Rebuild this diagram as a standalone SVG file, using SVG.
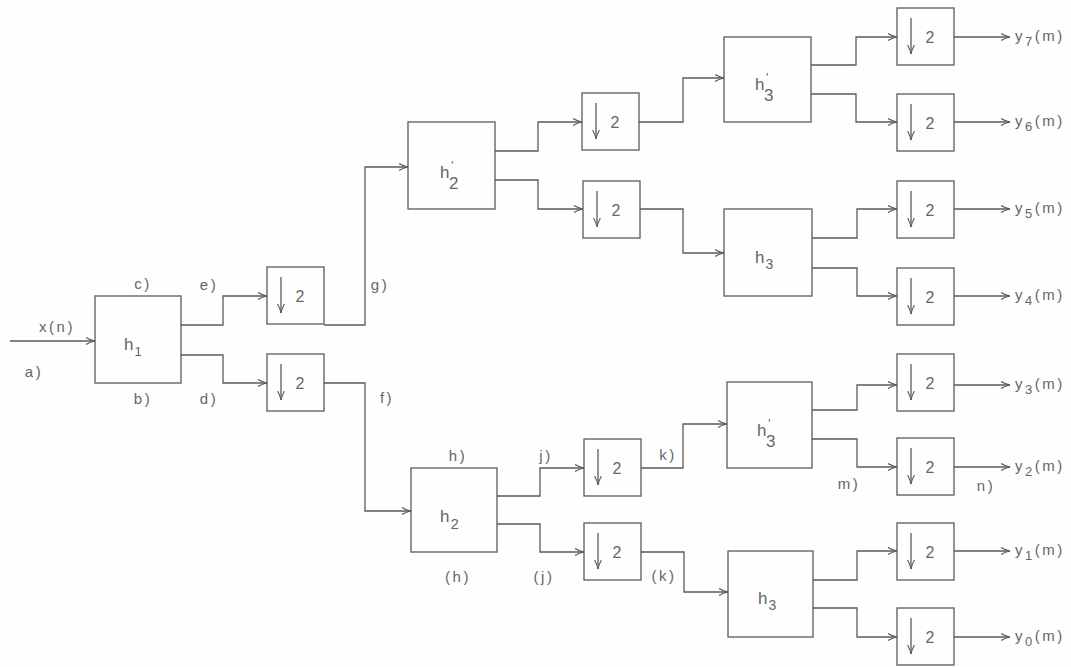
<svg xmlns="http://www.w3.org/2000/svg" width="1071" height="667" viewBox="0 0 1071 667">
<defs>
<style>
.bx{fill:none;stroke:#5a5a5a;stroke-width:1.3}
.ln{fill:none;stroke:#5a5a5a;stroke-width:1.3;marker-end:url(#ah)}
.t{font-family:"Liberation Sans",Arial,sans-serif;font-size:15px;fill:#666;text-anchor:middle;letter-spacing:2.5px}
.tl{font-family:"Liberation Sans",Arial,sans-serif;font-size:15px;fill:#666;letter-spacing:2.5px}
.h{font-family:"Liberation Sans",Arial,sans-serif;font-size:17px;fill:#666;letter-spacing:1px}
.pr{font-family:"Liberation Sans",Arial,sans-serif;font-size:13px;fill:#666}
.two{font-family:"Liberation Sans",Arial,sans-serif;font-size:16px;fill:#666;text-anchor:middle}
</style>
<marker id="ah" viewBox="0 0 10 10" refX="10" refY="5" markerWidth="9" markerHeight="9" markerUnits="userSpaceOnUse" orient="auto">
<path d="M0,1.2 Q5,4 10,5 Q5,6 0,8.8" fill="none" stroke="#5a5a5a" stroke-width="1.2"/>
</marker>
<g id="ds">
<rect class="bx" x="0" y="0" width="57" height="57"/>
<line class="ln" x1="14" y1="10" x2="14" y2="46"/>
<text class="two" x="33" y="35">2</text>
</g>
</defs>
<rect width="1071" height="667" fill="#fefefe"/>

<g id="connectors">
<path class="ln" d="M10,341 H95"/>
<path class="ln" d="M181,325 H223 V296 H267"/>
<path class="ln" d="M181,355 H223 V383 H267"/>
<path class="ln" d="M324,325 H365 V167 H408"/>
<path class="ln" d="M324,383 H365 V511 H411"/>
<path class="ln" d="M495,151 H538 V122 H582"/>
<path class="ln" d="M495,180 H538 V209 H583"/>
<path class="ln" d="M497,496 H540 V468 H584"/>
<path class="ln" d="M497,524 H540 V552 H584"/>
<path class="ln" d="M639,122 H683 V78 H724"/>
<path class="ln" d="M640,209 H683 V253 H724"/>
<path class="ln" d="M641,468 H683 V424 H727"/>
<path class="ln" d="M641,552 H684 V592 H728"/>
<path class="ln" d="M811,65 H856 V37 H897"/>
<path class="ln" d="M811,94 H856 V122 H897"/>
<path class="ln" d="M812,238 H857 V209 H897"/>
<path class="ln" d="M812,268 H857 V296 H897"/>
<path class="ln" d="M812,410 H857 V385 H897"/>
<path class="ln" d="M812,439 H857 V467 H897"/>
<path class="ln" d="M813,580 H857 V551 H897"/>
<path class="ln" d="M813,608 H857 V637 H897"/>
<path class="ln" d="M954,37 H1010"/>
<path class="ln" d="M954,122 H1010"/>
<path class="ln" d="M954,209 H1010"/>
<path class="ln" d="M954,296 H1010"/>
<path class="ln" d="M954,385 H1010"/>
<path class="ln" d="M954,467 H1010"/>
<path class="ln" d="M954,551 H1010"/>
<path class="ln" d="M954,637 H1010"/>
</g>

<g id="labels">
<text class="t" x="57" y="332">x(n)</text>
<text class="t" x="34" y="377">a)</text>
<text class="t" x="143" y="289">c)</text>
<text class="t" x="143" y="404">b)</text>
<text class="t" x="209" y="290">e)</text>
<text class="t" x="209" y="404">d)</text>
<text class="t" x="380" y="290">g)</text>
<text class="t" x="387" y="403">f)</text>
<text class="t" x="458" y="461">h)</text>
<text class="t" x="458" y="582">(h)</text>
<text class="t" x="546" y="461">j)</text>
<text class="t" x="544" y="582">(j)</text>
<text class="t" x="668" y="460">k)</text>
<text class="t" x="664" y="581">(k)</text>
<text class="t" x="849" y="489">m)</text>
<text class="t" x="986" y="491">n)</text>
</g>

<g id="h1"><rect class="bx" x="95" y="296" width="86" height="87"/><text class="h" x="124" y="350">h<tspan font-size="13" dy="6">1</tspan></text></g>
<g id="d1a"><use href="#ds" x="267" y="267"/></g>
<g id="d1b"><use href="#ds" x="267" y="354"/></g>
<g id="h2p"><rect class="bx" x="408" y="122" width="87" height="87"/><text class="h" x="440" y="178">h</text><text class="pr" x="451" y="170">'</text><text class="h" x="449" y="189" font-size="14">2</text></g>
<g id="h2"><rect class="bx" x="411" y="468" width="86" height="84"/><text class="h" x="440" y="522">h<tspan font-size="15" dy="7">2</tspan></text></g>
<g id="d2a"><use href="#ds" x="582" y="93"/></g>
<g id="d2b"><use href="#ds" x="583" y="181"/></g>
<g id="d2c"><use href="#ds" x="584" y="439"/></g>
<g id="d2d"><use href="#ds" x="584" y="523"/></g>
<g id="h3pa"><rect class="bx" x="724" y="37" width="87" height="85"/><text class="h" x="755" y="90">h</text><text class="pr" x="766" y="82">'</text><text class="h" x="764" y="101" font-size="14">3</text></g>
<g id="h3a"><rect class="bx" x="724" y="209" width="88" height="87"/><text class="h" x="755" y="263">h<tspan font-size="14" dy="6">3</tspan></text></g>
<g id="h3pb"><rect class="bx" x="727" y="382" width="85" height="86"/><text class="h" x="757" y="436">h</text><text class="pr" x="768" y="428">'</text><text class="h" x="766" y="447" font-size="14">3</text></g>
<g id="h3b"><rect class="bx" x="728" y="551" width="85" height="86"/><text class="h" x="758" y="604">h<tspan font-size="14" dy="6">3</tspan></text></g>
<g id="d3_7"><use href="#ds" x="897" y="8"/></g>
<g id="d3_6"><use href="#ds" x="897" y="94"/></g>
<g id="d3_5"><use href="#ds" x="897" y="181"/></g>
<g id="d3_4"><use href="#ds" x="897" y="268"/></g>
<g id="d3_3"><use href="#ds" x="897" y="354"/></g>
<g id="d3_2"><use href="#ds" x="897" y="438"/></g>
<g id="d3_1"><use href="#ds" x="897" y="523"/></g>
<g id="d3_0"><use href="#ds" x="897" y="608"/></g>

<g id="outs">
<text class="tl" x="1015" y="41">y<tspan font-size="13" dy="5">7</tspan><tspan dy="-5">(m)</tspan></text>
<text class="tl" x="1015" y="126">y<tspan font-size="13" dy="5">6</tspan><tspan dy="-5">(m)</tspan></text>
<text class="tl" x="1015" y="213">y<tspan font-size="13" dy="5">5</tspan><tspan dy="-5">(m)</tspan></text>
<text class="tl" x="1015" y="300">y<tspan font-size="13" dy="5">4</tspan><tspan dy="-5">(m)</tspan></text>
<text class="tl" x="1015" y="389">y<tspan font-size="13" dy="5">3</tspan><tspan dy="-5">(m)</tspan></text>
<text class="tl" x="1015" y="471">y<tspan font-size="13" dy="5">2</tspan><tspan dy="-5">(m)</tspan></text>
<text class="tl" x="1015" y="555">y<tspan font-size="13" dy="5">1</tspan><tspan dy="-5">(m)</tspan></text>
<text class="tl" x="1015" y="641">y<tspan font-size="13" dy="5">0</tspan><tspan dy="-5">(m)</tspan></text>
</g>
</svg>
